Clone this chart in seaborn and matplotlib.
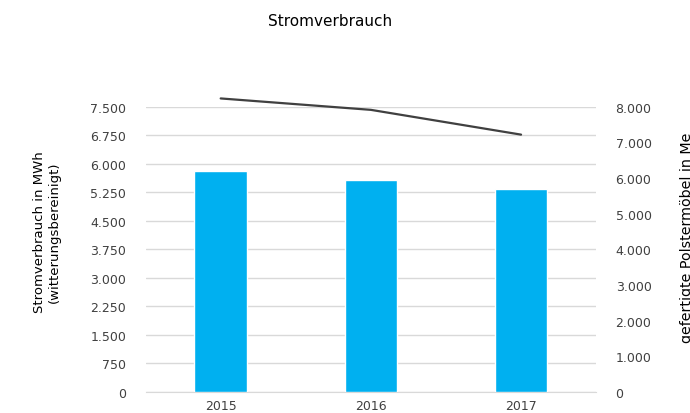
import matplotlib
matplotlib.use('Agg')
import matplotlib.pyplot as plt
import seaborn as sns
import pandas as pd
from matplotlib.ticker import FuncFormatter, MultipleLocator

# Data
jahre = ['2015', '2016', '2017']
strom_mwh = [5815, 5560, 5340]
polstermoebel = [8230, 7910, 7215]

df = pd.DataFrame({'Jahr': jahre, 'Strom': strom_mwh, 'Moebel': polstermoebel})

sns.set_style('white')
plt.rcParams['font.family'] = ['DejaVu Sans']

def de_fmt(v, pos):
    return f'{v:,.0f}'.replace(',', '.')

fig = plt.figure(figsize=(6.9, 4.14), dpi=100)
ax = fig.add_axes([0.211, 0.051, 0.653, 0.689])

sns.barplot(data=df, x='Jahr', y='Strom', color='#00B0F0', saturation=1,
            width=0.35, ax=ax, zorder=3)
ax.set_ylim(0, 7500)
ax.set_xlim(-0.5, 2.5)
ax.yaxis.set_major_locator(MultipleLocator(750))
ax.yaxis.set_major_formatter(FuncFormatter(de_fmt))
ax.grid(axis='y', color='#D9D9D9', linewidth=1, zorder=0)
ax.set_axisbelow(True)
for s in ['top', 'left', 'right']:
    ax.spines[s].set_visible(False)
ax.spines['bottom'].set_color('#D9D9D9')
ax.tick_params(axis='y', length=0, labelsize=9, colors='#404040', pad=14)
ax.tick_params(axis='x', length=0, labelsize=9, colors='#404040', pad=5)
ax.set_xlabel('')
ax.set_ylabel('')

# second axis for the line
ax2 = ax.twinx()
sns.lineplot(data=df, x='Jahr', y='Moebel', color='#404040', linewidth=1.6,
             ax=ax2, clip_on=False)
ax2.set_ylim(0, 8000)
ax2.set_xlim(-0.5, 2.5)
ax2.yaxis.set_major_locator(MultipleLocator(1000))
ax2.yaxis.set_major_formatter(FuncFormatter(de_fmt))
for s in ax2.spines.values():
    s.set_visible(False)
ax2.tick_params(axis='y', length=0, labelsize=9, colors='#404040', pad=14)
ax2.set_ylabel('')
ax2.set_xlabel('')

fig.text(0.478, 0.947, 'Stromverbrauch', ha='center', va='center',
         fontsize=11, color='#000000')
fig.text(0.068, 0.44, 'Stromverbrauch in MWh\n(witterungsbereinigt)',
         rotation=90, ha='center', va='center', fontsize=9.5,
         color='#000000', linespacing=1.1)
# right axis title is truncated in the original
fig.text(1.002, 0.171, 'gefertigte Polstermöbel in Me',
         rotation=90, rotation_mode='anchor', ha='left', va='baseline',
         fontsize=10.3, color='#000000')

fig.savefig('out.png', dpi=100)
